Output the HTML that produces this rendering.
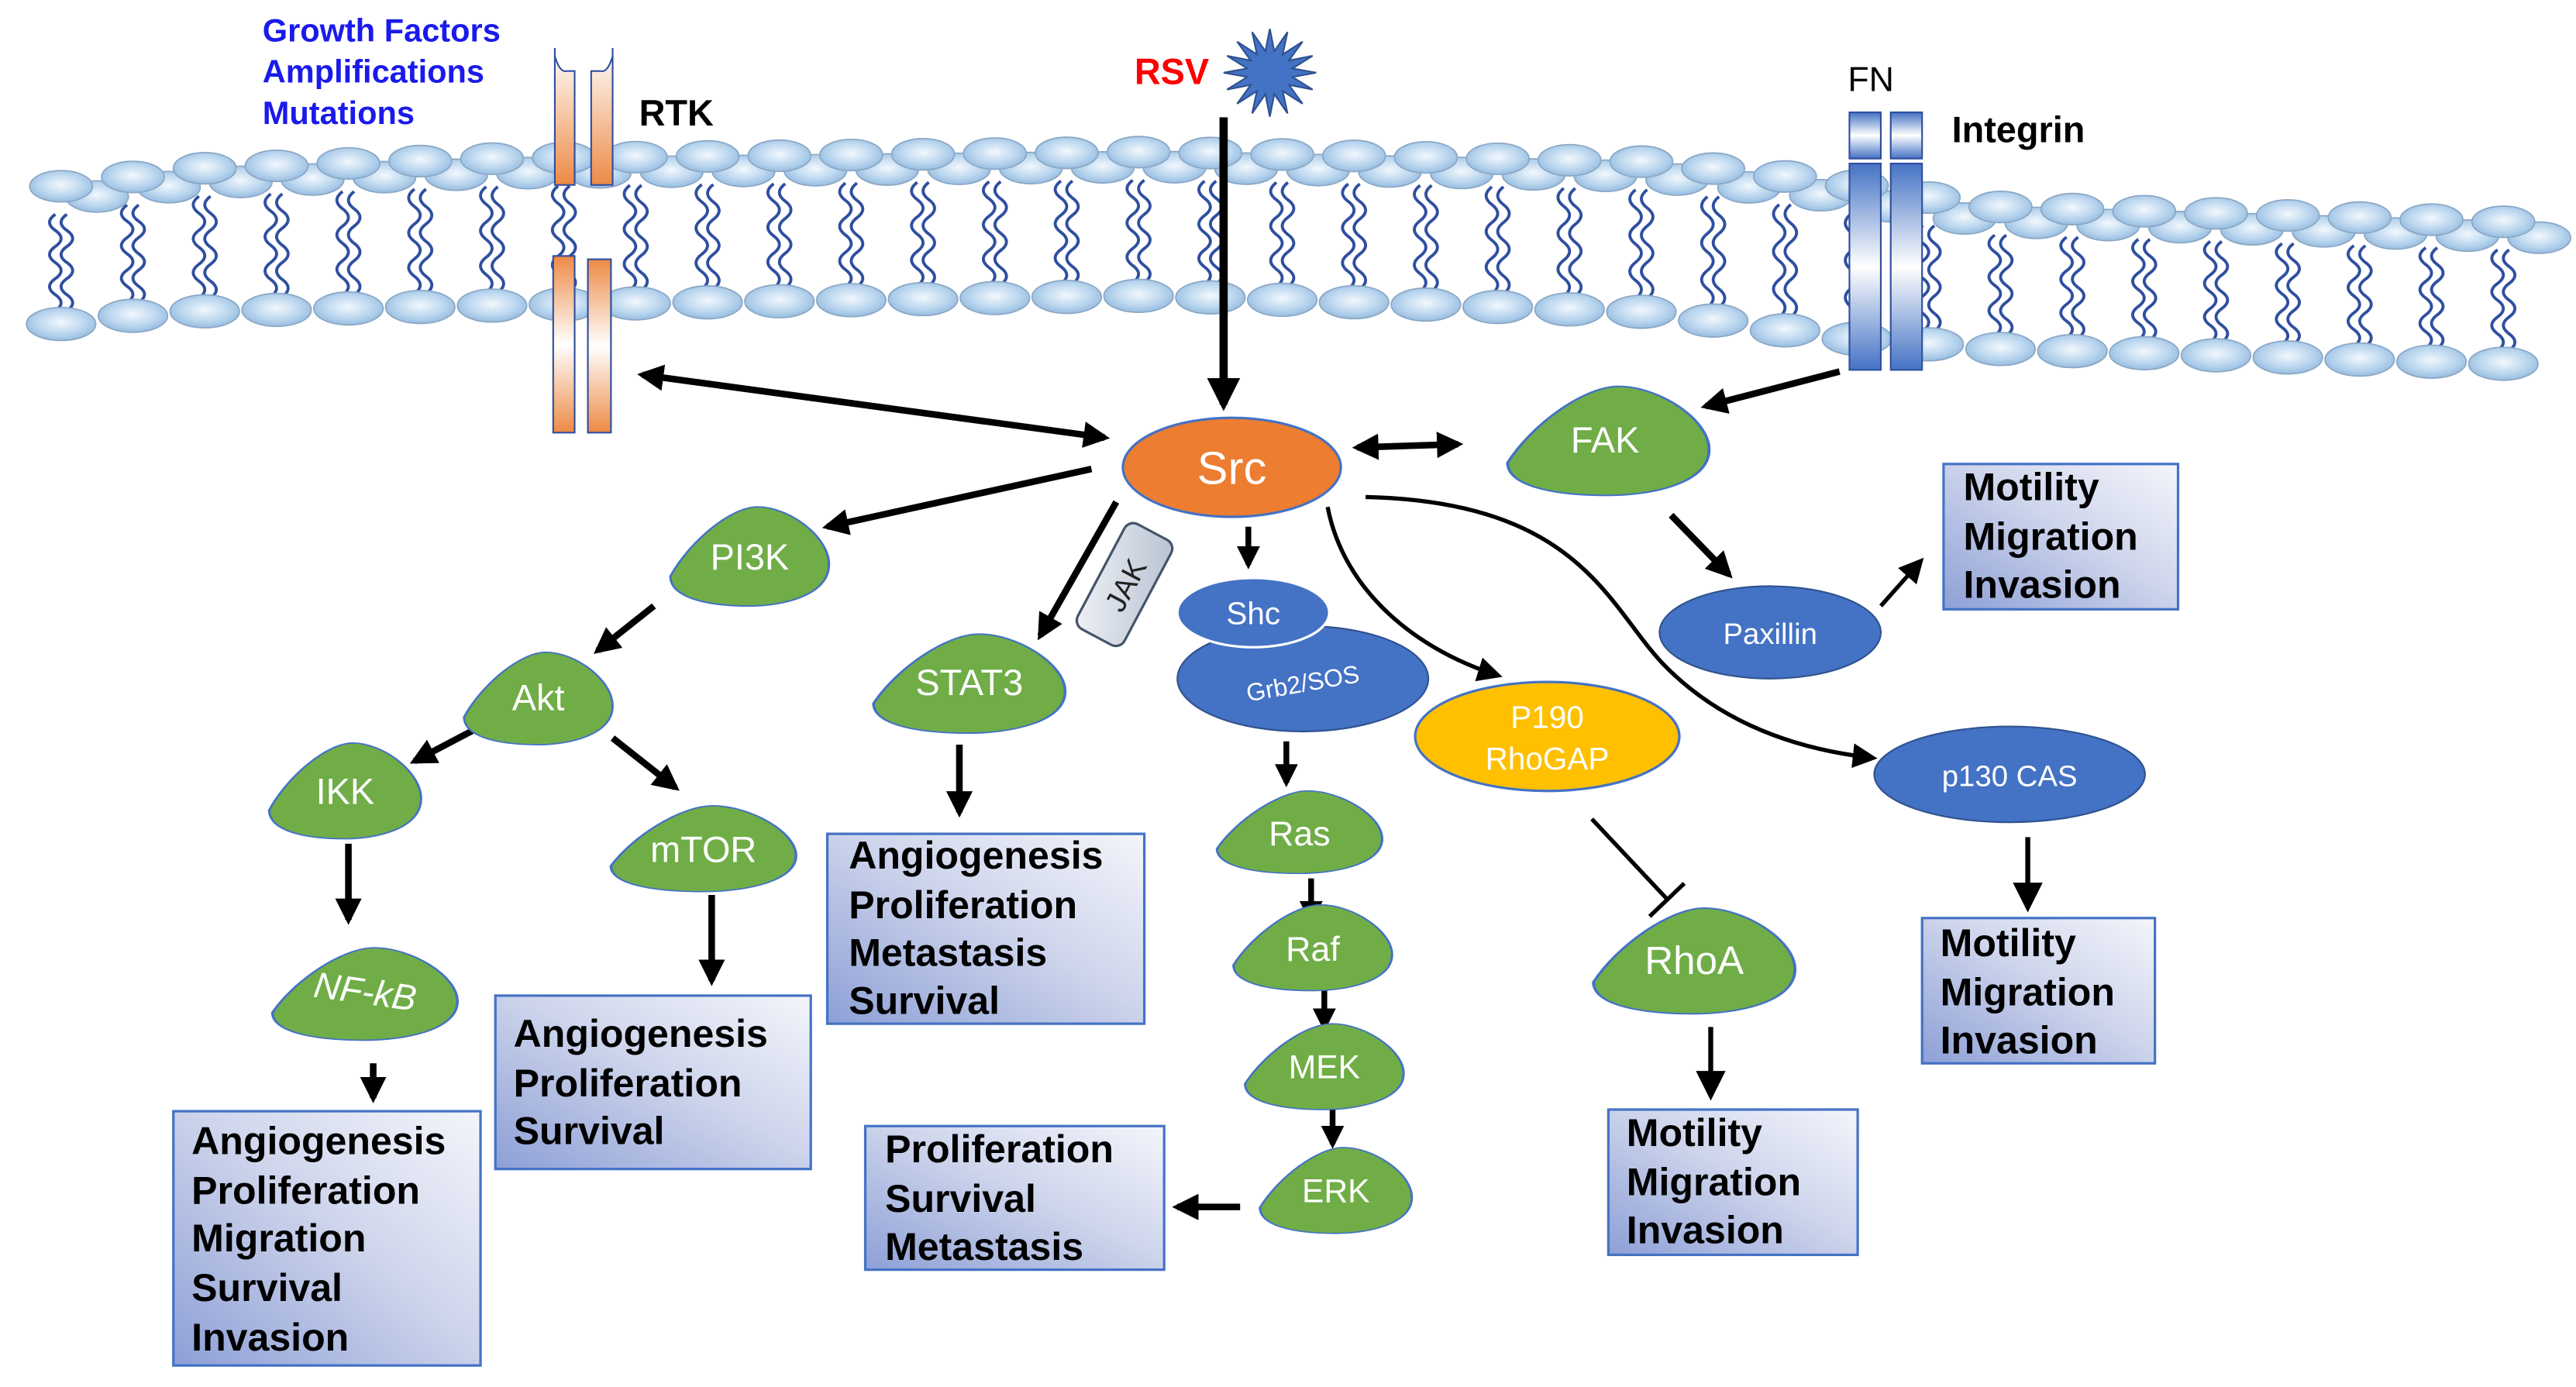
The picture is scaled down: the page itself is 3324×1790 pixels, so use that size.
<!DOCTYPE html>
<html><head><meta charset="utf-8"><style>
html,body{margin:0;padding:0;background:#fff;}
svg{display:block;}
text{font-family:"Liberation Sans",Arial,sans-serif;}
.b{font-weight:bold;font-size:23.5px;fill:#000;}
.w{fill:#fff;text-anchor:middle;}
</style></head><body>
<svg id="s" width="3324" height="1790" viewBox="0 0 1560 840" xmlns="http://www.w3.org/2000/svg">
<defs>
<radialGradient id="head" cx="0.5" cy="0.45" r="0.6"><stop offset="0" stop-color="#f2f8fd"/><stop offset="0.6" stop-color="#b9d5ee"/><stop offset="1" stop-color="#8fb6dd"/></radialGradient>
<linearGradient id="org" x1="0" y1="0" x2="0" y2="1"><stop offset="0" stop-color="#fff"/><stop offset="1" stop-color="#ed8a45"/></linearGradient>
<linearGradient id="org2" x1="0" y1="0" x2="0" y2="1"><stop offset="0" stop-color="#ed8a45"/><stop offset="0.5" stop-color="#fff"/><stop offset="1" stop-color="#ed8a45"/></linearGradient>
<linearGradient id="blu" x1="0" y1="0" x2="0" y2="1"><stop offset="0" stop-color="#4472c4"/><stop offset="0.5" stop-color="#fff"/><stop offset="1" stop-color="#4472c4"/></linearGradient>
<linearGradient id="box" x1="0" y1="1" x2="1" y2="0"><stop offset="0" stop-color="#8d9fd6"/><stop offset="0.55" stop-color="#cfd6ec"/><stop offset="1" stop-color="#f4f5fb"/></linearGradient>
<linearGradient id="jak" x1="0" y1="0" x2="1" y2="1"><stop offset="0" stop-color="#eef1f6"/><stop offset="1" stop-color="#b8c2d2"/></linearGradient>
<marker id="a" viewBox="0 0 10 10" refX="8" refY="5" markerWidth="4" markerHeight="4" orient="auto-start-reverse"><path d="M0,0 L10,5 L0,10 Z" fill="#000"/></marker>
<marker id="a2" viewBox="0 0 10 10" refX="8" refY="5" markerWidth="6" markerHeight="6" orient="auto-start-reverse"><path d="M0,0 L10,5 L0,10 Z" fill="#000"/></marker>
<path id="drop" d="M-0.5,0.2 C-0.38,-0.15 -0.12,-0.5 0.05,-0.5 C0.25,-0.5 0.5,-0.2 0.5,0.08 C0.5,0.4 0.2,0.5 0,0.5 C-0.3,0.5 -0.5,0.4 -0.5,0.2 Z"/>
</defs>
<g id="mem"></g>

<g font-weight="bold" font-size="19.5" fill="#1a1aeb">
<text x="159" y="25">Growth Factors</text>
<text x="159" y="50">Amplifications</text>
<text x="159" y="75">Mutations</text>
</g>
<text x="387" y="76" font-weight="bold" font-size="22">RTK</text>
<text x="687" y="51" font-weight="bold" font-size="22" fill="#f00">RSV</text>
<text x="1119" y="55" font-size="21">FN</text>
<text x="1182" y="86" font-weight="bold" font-size="22">Integrin</text>

<path d="M336,29 L336,34 Q339,44 343,43 L348,43 L348,112 L336,112 Z" fill="url(#org)" stroke="#2f4f9f" stroke-width="1"/>
<path d="M371,29 L371,34 Q368,44 364,43 L358,43 L358,112 L371,112 Z" fill="url(#org)" stroke="#2f4f9f" stroke-width="1"/>
<rect x="335" y="155" width="13" height="107" fill="url(#org2)" stroke="#2f4f9f" stroke-width="1"/>
<rect x="356" y="157" width="14" height="105" fill="url(#org2)" stroke="#2f4f9f" stroke-width="1"/>
<rect x="1120" y="68" width="19" height="28" fill="url(#blu)" stroke="#2f4f9f"/>
<rect x="1145" y="68" width="19" height="28" fill="url(#blu)" stroke="#2f4f9f"/>
<rect x="1120" y="99" width="19" height="125" fill="url(#blu)" stroke="#2f4f9f"/>
<rect x="1145" y="99" width="19" height="125" fill="url(#blu)" stroke="#2f4f9f"/>
<polygon id="star" fill="#4472c4" stroke="#2f528f" stroke-width="1"/>

<g stroke="#000" fill="none">
<line x1="741" y1="71" x2="741" y2="245" stroke-width="5" marker-end="url(#a)"/>
<line x1="389" y1="227" x2="669" y2="265" stroke-width="4" marker-start="url(#a)" marker-end="url(#a)"/>
<line x1="822" y1="271" x2="883" y2="269" stroke-width="4" marker-start="url(#a)" marker-end="url(#a)"/>
<line x1="1114" y1="225" x2="1033" y2="246" stroke-width="4" marker-end="url(#a)"/>
<line x1="661" y1="284" x2="501" y2="319" stroke-width="4" marker-end="url(#a)"/>
<line x1="396" y1="367" x2="362" y2="394" stroke-width="4" marker-end="url(#a)"/>
<line x1="289" y1="441" x2="251" y2="461" stroke-width="4" marker-end="url(#a)"/>
<line x1="371" y1="447" x2="409" y2="477" stroke-width="4" marker-end="url(#a)"/>
<line x1="211" y1="511" x2="211" y2="557" stroke-width="4" marker-end="url(#a)"/>
<line x1="226" y1="644" x2="226" y2="665" stroke-width="4" marker-end="url(#a)"/>
<line x1="431" y1="542" x2="431" y2="594" stroke-width="4" marker-end="url(#a)"/>
<line x1="676" y1="304" x2="630" y2="385" stroke-width="4" marker-end="url(#a)"/>
<line x1="581" y1="451" x2="581" y2="492" stroke-width="4" marker-end="url(#a)"/>
<line x1="756" y1="319" x2="756" y2="342" stroke-width="3.5" marker-end="url(#a)"/>
<line x1="779" y1="449" x2="779" y2="474" stroke-width="3.5" marker-end="url(#a)"/>
<line x1="794" y1="532" x2="794" y2="557" stroke-width="3.5" marker-end="url(#a)"/>
<line x1="802" y1="599" x2="802" y2="622" stroke-width="3.5" marker-end="url(#a)"/>
<line x1="807" y1="671" x2="807" y2="693" stroke-width="3.5" marker-end="url(#a)"/>
<line x1="751" y1="731" x2="713" y2="731" stroke-width="4" marker-end="url(#a)"/>
<line x1="1012" y1="312" x2="1047" y2="348" stroke-width="4" marker-end="url(#a)"/>
<line x1="1139" y1="367" x2="1163" y2="340" stroke-width="2.5" marker-end="url(#a2)"/>
<line x1="1228" y1="507" x2="1228" y2="549" stroke-width="3" marker-end="url(#a2)"/>
<line x1="1036" y1="622" x2="1036" y2="663" stroke-width="3" marker-end="url(#a2)"/>
<path d="M804,307 C814,359 859,394 907,409" stroke-width="2.5" marker-end="url(#a2)"/>
<path d="M827,301 C959,304 974,369 1009,404 C1044,439 1089,454 1134,459" stroke-width="2.5" marker-end="url(#a2)"/>
<line x1="964" y1="496" x2="1010" y2="545" stroke-width="2.5"/>
<line x1="999" y1="555" x2="1020" y2="535" stroke-width="2.5"/>
</g>

<ellipse cx="746" cy="283" rx="66" ry="30" fill="#ed7d31" stroke="#4472c4" stroke-width="1.5"/>
<text x="746" y="293" class="w" font-size="28">Src</text>

<g fill="#70ad47" stroke="#4472c4">
<use href="#drop" transform="translate(974,267) scale(122,66)" stroke-width="0.015"/>
<use href="#drop" transform="translate(454,337) scale(96,60)" stroke-width="0.015"/>
<use href="#drop" transform="translate(326,423) scale(90,56)" stroke-width="0.015"/>
<use href="#drop" transform="translate(209,479) scale(92,58)" stroke-width="0.015"/>
<use href="#drop" transform="translate(221,602) scale(112,56)" stroke-width="0.015"/>
<use href="#drop" transform="translate(426,514) scale(112,52)" stroke-width="0.015"/>
<use href="#drop" transform="translate(587,414) scale(116,60)" stroke-width="0.015"/>
<use href="#drop" transform="translate(787,504) scale(100,50)" stroke-width="0.015"/>
<use href="#drop" transform="translate(795,574) scale(96,52)" stroke-width="0.015"/>
<use href="#drop" transform="translate(802,646) scale(96,52)" stroke-width="0.015"/>
<use href="#drop" transform="translate(809,721) scale(92,52)" stroke-width="0.015"/>
<use href="#drop" transform="translate(1026,582) scale(122,64)" stroke-width="0.015"/>
</g>
<g font-size="22">
<text x="972" y="274" class="w">FAK</text>
<text x="454" y="345" class="w">PI3K</text>
<text x="326" y="430" class="w">Akt</text>
<text x="209" y="487" class="w">IKK</text>
<text x="221" y="608" class="w" font-style="italic" transform="rotate(8 221 602)">NF-kB</text>
<text x="426" y="522" class="w">mTOR</text>
<text x="587" y="421" class="w">STAT3</text>
<text x="787" y="512" class="w" font-size="21">Ras</text>
<text x="795" y="582" class="w" font-size="21">Raf</text>
<text x="802" y="653" class="w" font-size="20">MEK</text>
<text x="809" y="728" class="w" font-size="20">ERK</text>
<text x="1026" y="590" class="w" font-size="24">RhoA</text>
</g>

<g transform="translate(681,354) rotate(-62)">
<rect x="-36" y="-16" width="72" height="32" rx="6" fill="url(#jak)" stroke="#44546a" stroke-width="1.5"/>
<text x="0" y="7" text-anchor="middle" font-size="18" fill="#222">JAK</text>
</g>

<ellipse cx="789" cy="411" rx="76" ry="32" fill="#4472c4" stroke="#2f528f"/>
<ellipse cx="759" cy="371" rx="46" ry="21" fill="#4472c4" stroke="#fff" stroke-width="1.5"/>
<text x="759" y="378" class="w" font-size="19">Shc</text>
<text x="789" y="419" class="w" font-size="15" transform="rotate(-10 789 414)">Grb2/SOS</text>
<ellipse cx="1072" cy="383" rx="67" ry="28" fill="#4472c4" stroke="#2f528f"/>
<text x="1072" y="390" class="w" font-size="18">Paxillin</text>
<ellipse cx="1217" cy="469" rx="82" ry="29" fill="#4472c4" stroke="#2f528f"/>
<text x="1217" y="476" class="w" font-size="18">p130 CAS</text>
<ellipse cx="937" cy="446" rx="80" ry="33" fill="#ffc000" stroke="#4472c4" stroke-width="1.5"/>
<text x="937" y="441" class="w" font-size="19">P190</text>
<text x="937" y="466" class="w" font-size="19">RhoGAP</text>

<g fill="url(#box)" stroke="#4472c4" stroke-width="1.5">
<rect x="105" y="673" width="186" height="154"/>
<rect x="300" y="603" width="191" height="105"/>
<rect x="501" y="505" width="192" height="115"/>
<rect x="524" y="682" width="181" height="87"/>
<rect x="974" y="672" width="151" height="88"/>
<rect x="1164" y="556" width="141" height="88"/>
<rect x="1177" y="281" width="142" height="88"/>
</g>
<g>
<text class="b" x="116" y="699">Angiogenesis</text><text class="b" x="116" y="729">Proliferation</text><text class="b" x="116" y="758">Migration</text><text class="b" x="116" y="788">Survival</text><text class="b" x="116" y="818">Invasion</text>
<text class="b" x="311" y="634">Angiogenesis</text><text class="b" x="311" y="664">Proliferation</text><text class="b" x="311" y="693">Survival</text>
<text class="b" x="514" y="526">Angiogenesis</text><text class="b" x="514" y="556">Proliferation</text><text class="b" x="514" y="585">Metastasis</text><text class="b" x="514" y="614">Survival</text>
<text class="b" x="536" y="704">Proliferation</text><text class="b" x="536" y="734">Survival</text><text class="b" x="536" y="763">Metastasis</text>
<text class="b" x="985" y="694">Motility</text><text class="b" x="985" y="724">Migration</text><text class="b" x="985" y="753">Invasion</text>
<text class="b" x="1175" y="579">Motility</text><text class="b" x="1175" y="609">Migration</text><text class="b" x="1175" y="638">Invasion</text>
<text class="b" x="1189" y="303">Motility</text><text class="b" x="1189" y="333">Migration</text><text class="b" x="1189" y="362">Invasion</text>
</g>
</svg>
<script>
(function(){
var NS="http://www.w3.org/2000/svg",g=document.getElementById("mem");
function interp(pts,x){for(var i=0;i<pts.length-1;i++){if(x<=pts[i+1][0]){var t=(x-pts[i][0])/(pts[i+1][0]-pts[i][0]);return pts[i][1]+t*(pts[i+1][1]-pts[i][1]);}}return pts[pts.length-1][1];}
var up=[[20,116],[120,103],[300,97],[700,93],[1000,99],[1110,111],[1200,126],[1540,136]];
var lo=[[30,197],[100,189],[300,185],[700,179],[1000,189],[1110,204],[1200,211],[1540,221]];
function el(n,a){var e=document.createElementNS(NS,n);for(var k in a)e.setAttribute(k,a[k]);g.appendChild(e);return e;}
var step=43.5;
for(var x=37;x<=1530;x+=step){
 var yt=interp(up,x)+16,yb=interp(lo,x)-8;
 for(var d=-3.5;d<=3.5;d+=7){
  var p="M"+(x+d)+","+yt;var n=6,h=(yb-yt)/n;
  for(var i=0;i<n;i++){var y0=yt+i*h;var s=(i%2?1:-1)*7;p+=" Q"+(x+d+s)+","+(y0+h/2)+" "+(x+d)+","+(y0+h);}
  el("path",{d:p,fill:"none",stroke:"#2f4f9f","stroke-width":"1.8"});
 }
}
for(var x=37+step/2;x<=1540;x+=step){var y=interp(up,x);el("ellipse",{cx:x,cy:y+8,rx:19,ry:9.5,fill:"url(#head)",stroke:"#8aa7c4","stroke-width":"0.8"});}
for(var x=37;x<=1540;x+=step){var y=interp(up,x);el("ellipse",{cx:x,cy:y-1,rx:19,ry:9.5,fill:"url(#head)",stroke:"#8aa7c4","stroke-width":"0.8"});}
for(var x=37;x<=1530;x+=step){var y=interp(lo,x);el("ellipse",{cx:x,cy:y,rx:21,ry:10,fill:"url(#head)",stroke:"#8aa7c4","stroke-width":"0.8"});}
var st=document.getElementById("star"),pts=[],cx=769,cy=44;
for(var i=0;i<32;i++){var r=i%2?14:28,a=i*Math.PI/16;pts.push((cx+r*Math.cos(a)).toFixed(1)+","+(cy+r*Math.sin(a)*0.95).toFixed(1));}
st.setAttribute("points",pts.join(" "));
})();
</script>
</body></html>
